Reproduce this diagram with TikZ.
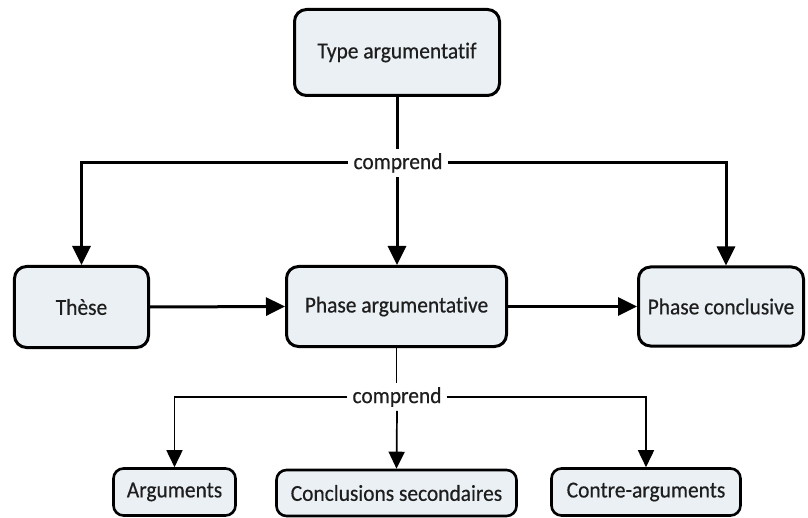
\documentclass[tikz,border=0pt]{standalone}
\usepackage{fontspec}
\setmainfont{Carlito}
\newfontfamily\diagfont{Carlito}[FakeStretch=0.94, FakeBold=0.45, Ligatures=NoCommon]
\usetikzlibrary{arrows.meta}
\definecolor{boxfill}{RGB}{234,240,244}
\definecolor{txt}{RGB}{30,30,30}
\begin{document}
\begin{tikzpicture}[x=1bp,y=-1bp,
  box/.style={draw=black, line width=3bp, fill=boxfill, rounded corners=12bp, inner sep=0pt,
    font=\diagfont\fontsize{22.8bp}{26bp}\selectfont, text=txt},
  smallbox/.style={box, rounded corners=10bp, line width=2.6bp},
  thickconn/.style={line width=3bp, -{Triangle[width=18bp,length=19bp]}},
  thinconn/.style={line width=1.7bp, -{Triangle[width=16bp,length=17bp]}},
  lbl/.style={fill=white, inner xsep=5bp, inner ysep=4bp, font=\diagfont\fontsize{22.8bp}{26bp}\selectfont, text=txt},
]
\useasboundingbox (0,0) rectangle (808,518);
\node[box, minimum width=205bp, minimum height=86bp] (T) at (397,52.5) {Type argumentatif};
\node[box, minimum width=134bp, minimum height=81bp] (Th) at (81.5,307) {Thèse};
\node[box, minimum width=220bp, minimum height=80bp] (PA) at (396.5,306.5) {Phase argumentative};
\node[box, minimum width=165bp, minimum height=79bp] (PC) at (721,306.5) {Phase conclusive};
\node[smallbox, minimum width=122bp, minimum height=47bp] (A) at (174.5,492) {Arguments};
\node[smallbox, minimum width=240bp, minimum height=46bp] (CS) at (396.5,493) {Conclusions secondaires};
\node[smallbox, minimum width=189bp, minimum height=47bp] (CA) at (646,492) {Contre-arguments};

\node[lbl] (c1) at (398,163) {comprend};
\node[lbl] (c2) at (397,397) {comprend};

\coordinate (pcin) at ([xshift=5bp]PC.north);

\draw[line width=3bp] (T.south) -- (T.south |- c1.north);
\draw[thickconn] (c1.west) -| (Th.north);
\draw[thickconn] (T.south |- c1.south) -- (T.south |- PA.north);
\draw[thickconn] (c1.east) -| (pcin);
\draw[thickconn] (Th.east) -- (PA.west);
\draw[thickconn] (PA.east) -- (PA.east -| PC.west);

\draw[line width=1.7bp] (PA.south) -- (PA.south |- c2.north);
\draw[thinconn] (c2.west) -| (A.north);
\draw[thinconn] (c2.south) -- (CS.north);
\draw[thinconn] (c2.east) -| (CA.north);
\end{tikzpicture}
\end{document}
